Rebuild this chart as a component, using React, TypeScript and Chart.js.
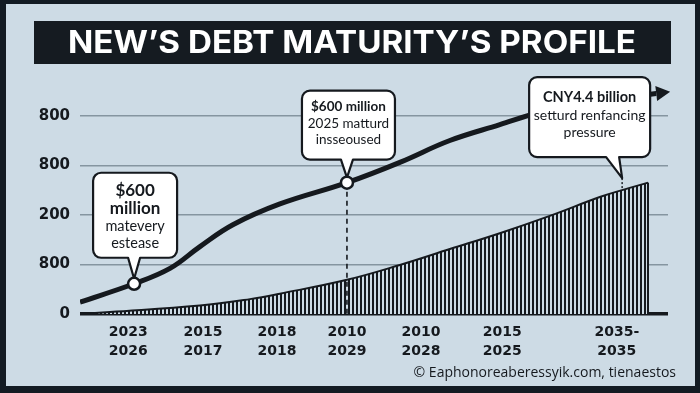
import React, { useEffect, useRef } from "react";
import { Chart, registerables } from "chart.js";

Chart.register(...registerables);

// ---------- data ----------
const titleText = "NEW’S DEBT MATURITY’S PROFILE";
const footerText = "© Eaphonoreaberessyik.com, tienaestos";

const yTickValues = [0, 1, 2, 3, 4];
const yTickLabels = ["0", "800", "200", "800", "800"];

const xTickValues = [8.2, 20.9, 33.5, 45.4, 58.0, 71.8, 91.3];
const xTickLabels = [
  ["2023", "2026"],
  ["2015", "2017"],
  ["2018", "2018"],
  ["2010", "2029"],
  ["2010", "2028"],
  ["2015", "2025"],
  ["2035-", "2035"],
];

// outstanding debt curve (thick line)
const lineX = [0, 9.2, 15.3, 20.4, 26.0, 34.0, 45.4, 54.4, 62.9, 71.4, 78.2, 85.0, 91.8, 98.0];
const lineY = [0.24, 0.61, 0.92, 1.36, 1.8, 2.22, 2.65, 3.06, 3.5, 3.82, 4.07, 4.24, 4.36, 4.45];

// maturing amount (striped area)
const areaX = [0, 5.1, 20.4, 28.9, 34.0, 45.4, 54.4, 62.9, 71.4, 79.9, 88.4, 92.2, 96.6];
const areaY = [0, 0.04, 0.17, 0.3, 0.41, 0.69, 0.99, 1.31, 1.63, 1.98, 2.36, 2.5, 2.65];

// callout texts
const callout1Lines = ["$600", "million", "matevery", "estease"];
const callout2Lines = ["$600 million", "2025 matturd", "insseoused"];
const callout3Lines = ["CNY4.4 billion", "setturd renfancing", "pressure"];

// which points carry markers / callouts
const markerLineIndexes = [1, 6];
const callout3AreaIndex = 11;

// ---------- styles ----------
const INK = "#15191e";
const PANEL = "#cddbe5";
const FRAME = "#131b23";
const GRID = "#8595a0";
const FONT = "Lato, 'Open Sans', 'DejaVu Sans', sans-serif";

function calloutPath(
  ctx: CanvasRenderingContext2D,
  l: number, t: number, w: number, h: number, r: number,
  bx1: number, bx2: number, tx: number, ty: number
) {
  const rr = l + w, b = t + h;
  ctx.beginPath();
  ctx.moveTo(l + r, t);
  ctx.lineTo(rr - r, t);
  ctx.arcTo(rr, t, rr, t + r, r);
  ctx.lineTo(rr, b - r);
  ctx.arcTo(rr, b, rr - r, b, r);
  ctx.lineTo(bx2, b);
  ctx.lineTo(tx, ty);
  ctx.lineTo(bx1, b);
  ctx.lineTo(l + r, b);
  ctx.arcTo(l, b, l, b - r, r);
  ctx.lineTo(l, t + r);
  ctx.arcTo(l, t, l + r, t, r);
  ctx.closePath();
}

function drawCallout(
  ctx: CanvasRenderingContext2D,
  box: { l: number; t: number; w: number; h: number },
  base: [number, number],
  tip: [number, number],
  lines: string[],
  fonts: string[],
  offsets: number[]
) {
  ctx.save();
  calloutPath(ctx, box.l, box.t, box.w, box.h, 8, base[0], base[1], tip[0], tip[1]);
  ctx.fillStyle = "#ffffff";
  ctx.fill();
  ctx.lineWidth = 2.2;
  ctx.strokeStyle = INK;
  ctx.lineJoin = "round";
  ctx.stroke();
  ctx.fillStyle = INK;
  ctx.textAlign = "center";
  ctx.textBaseline = "middle";
  const cx = box.l + box.w / 2;
  lines.forEach((s, i) => {
    ctx.font = fonts[i];
    ctx.fillText(s, cx, box.t + offsets[i]);
  });
  ctx.restore();
}

const backgroundPlugin = {
  id: "bgPanel",
  beforeDraw(chart: any) {
    const ctx: CanvasRenderingContext2D = chart.ctx;
    const W = chart.width, H = chart.height;
    ctx.save();
    ctx.fillStyle = FRAME;
    ctx.fillRect(0, 0, W, H);
    ctx.fillStyle = PANEL;
    ctx.fillRect(6, 4, W - 11, H - 11);
    // title bar
    ctx.fillStyle = "#151b21";
    ctx.fillRect(34, 21, 637, 43);
    ctx.font = `bold 31px Inter, 'Open Sans', sans-serif`;
    const w = ctx.measureText(titleText).width;
    const sx = 568 / w;
    ctx.translate(352, 44);
    ctx.scale(sx, 1);
    ctx.fillStyle = "#ffffff";
    ctx.textAlign = "center";
    ctx.textBaseline = "middle";
    ctx.fillText(titleText, 0, 0);
    ctx.restore();
  },
  afterDraw(chart: any) {
    const ctx: CanvasRenderingContext2D = chart.ctx;
    ctx.save();
    ctx.font = `14px 'Open Sans', sans-serif`;
    ctx.fillStyle = INK;
    ctx.textAlign = "right";
    ctx.textBaseline = "middle";
    ctx.fillText(footerText, 676, 373);
    ctx.restore();
  },
};

const annotationPlugin = {
  id: "annotations",
  afterDatasetsDraw(chart: any) {
    const ctx: CanvasRenderingContext2D = chart.ctx;
    const ys = chart.scales.y;
    const lineMeta = chart.getDatasetMeta(0);
    const areaMeta = chart.getDatasetMeta(1);
    const y0 = ys.getPixelForValue(0);

    // right edge of striped area
    const lastA = areaMeta.data[areaMeta.data.length - 1];
    ctx.save();
    ctx.strokeStyle = INK;
    ctx.lineWidth = 2;
    ctx.beginPath();
    ctx.moveTo(lastA.x, lastA.y);
    ctx.lineTo(lastA.x, y0);
    ctx.stroke();
    ctx.restore();

    // arrow head at end of line
    const pts = lineMeta.data;
    const p = pts[pts.length - 1];
    const cpx = p.cp1x ?? pts[pts.length - 2].x;
    const cpy = p.cp1y ?? pts[pts.length - 2].y;
    let dx = p.x - cpx, dy = p.y - cpy;
    const len = Math.hypot(dx, dy) || 1;
    dx /= len; dy /= len;
    ctx.save();
    ctx.fillStyle = INK;
    ctx.beginPath();
    ctx.moveTo(p.x + dx * 14, p.y + dy * 14);
    ctx.lineTo(p.x - dy * 7.5, p.y + dx * 7.5);
    ctx.lineTo(p.x + dy * 7.5, p.y - dx * 7.5);
    ctx.closePath();
    ctx.fill();
    ctx.restore();

    const m1 = pts[markerLineIndexes[0]];
    const m2 = pts[markerLineIndexes[1]];

    // dashed drop line from marker 2
    ctx.save();
    ctx.strokeStyle = INK;
    ctx.lineWidth = 1.6;
    ctx.setLineDash([5, 4]);
    ctx.beginPath();
    ctx.moveTo(m2.x, m2.y);
    ctx.lineTo(m2.x, y0);
    ctx.stroke();
    ctx.restore();

    // callout 3 anchor on area
    const a3 = areaMeta.data[callout3AreaIndex];
    const t3: [number, number] = [a3.x, a3.y - 12];
    ctx.save();
    ctx.strokeStyle = INK;
    ctx.lineWidth = 1.4;
    ctx.setLineDash([2, 2]);
    ctx.beginPath();
    ctx.moveTo(a3.x, t3[1]);
    ctx.lineTo(a3.x, a3.y);
    ctx.stroke();
    ctx.restore();

    drawCallout(
      ctx,
      { l: m1.x - 41, t: m1.y - 111, w: 84, h: 85 },
      [m1.x - 6, m1.x + 6],
      [m1.x, m1.y - 5],
      callout1Lines,
      [`bold 17px ${FONT}`, `bold 17px ${FONT}`, `14.5px ${FONT}`, `14.5px ${FONT}`],
      [18, 36, 54, 71]
    );
    drawCallout(
      ctx,
      { l: m2.x - 45, t: m2.y - 92, w: 93, h: 69 },
      [m2.x - 6, m2.x + 6],
      [m2.x, m2.y - 5],
      callout2Lines,
      [`bold 13.5px ${FONT}`, `13.5px ${FONT}`, `13.5px ${FONT}`],
      [16, 33, 49]
    );
    drawCallout(
      ctx,
      { l: t3[0] - 93, t: t3[1] - 101, w: 121, h: 80 },
      [t3[0] - 16, t3[0] - 3],
      t3,
      callout3Lines,
      [`bold 14.5px ${FONT}`, `14px ${FONT}`, `14px ${FONT}`],
      [20, 38, 55]
    );

    // markers
    [m1, m2].forEach((m: any) => {
      ctx.save();
      ctx.beginPath();
      ctx.arc(m.x, m.y, 6, 0, Math.PI * 2);
      ctx.fillStyle = "#ffffff";
      ctx.fill();
      ctx.lineWidth = 2.5;
      ctx.strokeStyle = INK;
      ctx.stroke();
      ctx.restore();
    });
  },
};

function makeStripePattern(): CanvasPattern | string {
  const c = document.createElement("canvas");
  c.width = 4;
  c.height = 4;
  const g = c.getContext("2d");
  if (!g) return INK;
  g.fillStyle = PANEL;
  g.fillRect(0, 0, 4, 4);
  g.fillStyle = INK;
  g.fillRect(0, 0, 2, 4);
  const pat = g.createPattern(c, "repeat");
  return pat || INK;
}

export default function App() {
  const ref = useRef<HTMLCanvasElement | null>(null);

  useEffect(() => {
    if (!ref.current) return;
    const pattern = makeStripePattern();
    const chart = new Chart(ref.current, {
      type: "line",
      data: {
        datasets: [
          {
            label: "Outstanding",
            data: lineX.map((x, i) => ({ x, y: lineY[i] })),
            borderColor: INK,
            borderWidth: 5,
            borderCapStyle: "butt",
            pointRadius: 0,
            fill: false,
            tension: 0.4,
            order: 0,
          },
          {
            label: "Maturing",
            data: areaX.map((x, i) => ({ x, y: areaY[i] })),
            borderColor: INK,
            borderWidth: 2,
            backgroundColor: pattern as any,
            pointRadius: 0,
            fill: "origin",
            tension: 0.4,
            order: 1,
          },
        ],
      },
      options: {
        responsive: false,
        animation: false,
        layout: { padding: { left: 0, right: 32, top: 86, bottom: 0 } },
        plugins: {
          legend: { display: false },
          tooltip: { enabled: false },
          title: { display: false },
        },
        scales: {
          x: {
            type: "linear",
            min: 0,
            max: 100,
            afterBuildTicks: (axis: any) => {
              axis.ticks = xTickValues.map((v) => ({ value: v }));
            },
            afterFit: (axis: any) => {
              axis.height = 79;
            },
            grid: { display: false, drawTicks: false },
            border: { display: false },
            ticks: {
              autoSkip: false,
              maxRotation: 0,
              padding: 9,
              color: INK,
              font: { family: "'DejaVu Sans', sans-serif", size: 14, weight: "bold", lineHeight: 1.36 },
              callback: (_v: any, i: number) => xTickLabels[i] as any,
            },
          },
          y: {
            type: "linear",
            min: 0,
            max: 4.6,
            afterBuildTicks: (axis: any) => {
              axis.ticks = yTickValues.map((v) => ({ value: v }));
            },
            afterFit: (axis: any) => {
              axis.width = 80;
            },
            grid: {
              drawTicks: false,
              color: (c: any) => (c.tick && c.tick.value === 0 ? INK : GRID),
              lineWidth: (c: any) => (c.tick && c.tick.value === 0 ? 3.5 : 1.5),
            },
            border: { display: false },
            ticks: {
              padding: 10,
              color: INK,
              font: { family: "'DejaVu Sans', sans-serif", size: 15, weight: "bold" },
              callback: (_v: any, i: number) => yTickLabels[i],
            },
          },
        },
      },
      plugins: [backgroundPlugin, annotationPlugin],
    } as any);
    return () => chart.destroy();
  }, []);

  return (
    <div style={{ position: "absolute", left: 0, top: 0, width: 700, height: 393 }}>
      <canvas ref={ref} width={700} height={393} style={{ display: "block", width: 700, height: 393 }} />
    </div>
  );
}
